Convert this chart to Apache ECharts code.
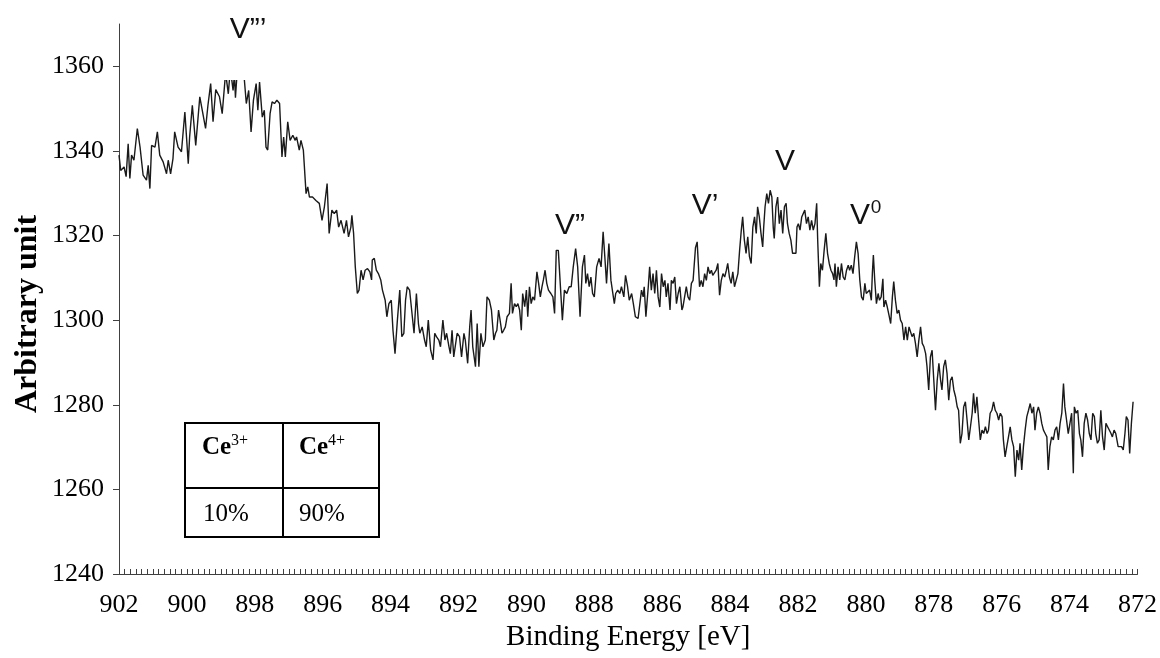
<!DOCTYPE html>
<html>
<head>
<meta charset="utf-8">
<script src="https://cdn.jsdelivr.net/npm/echarts@6/dist/echarts.min.js"></script>
<style>
html,body{margin:0;padding:0;background:#fff;}
#chart{width:1160px;height:658px;}
</style>
</head>
<body>
<div id="chart"></div>
<script>
// ---- Data ----
const bindingEnergy = [
902.00, 901.95, 901.85, 901.79, 901.73, 901.68, 901.63, 901.56, 901.46, 901.38,
901.29, 901.19, 901.14, 901.09, 901.04, 900.94, 900.87, 900.80, 900.70, 900.60,
900.55, 900.48, 900.41, 900.36, 900.26, 900.16, 900.06, 899.96, 899.92, 899.84,
899.74, 899.62, 899.52, 899.45, 899.38, 899.30, 899.23, 899.15, 899.04, 898.96,
898.86, 898.78, 898.72, 898.64, 898.60, 898.57, 898.50, 898.43, 898.33, 898.25,
898.18, 898.11, 898.04, 897.96, 897.91, 897.86, 897.78, 897.72, 897.67, 897.62,
897.55, 897.49, 897.42, 897.35, 897.27, 897.20, 897.15, 897.10, 897.03, 896.96,
896.88, 896.81, 896.77, 896.69, 896.64, 896.57, 896.49, 896.44, 896.39, 896.30,
896.20, 896.10, 896.02, 895.95, 895.87, 895.81, 895.73, 895.66, 895.59, 895.53,
895.46, 895.37, 895.30, 895.24, 895.17,
895.14, 895.09, 895.04, 894.98, 894.93, 894.87, 894.81, 894.75, 894.68, 894.61,
894.56, 894.54, 894.48, 894.42, 894.36, 894.29, 894.24, 894.16, 894.11, 894.05,
893.98, 893.93, 893.87, 893.80, 893.73, 893.67, 893.61, 893.56, 893.51, 893.44,
893.38, 893.31, 893.24, 893.18, 893.14, 893.07, 893.00, 892.95, 892.89, 892.82,
892.75, 892.70, 892.65, 892.58, 892.53, 892.46, 892.40, 892.35, 892.28, 892.24,
892.19, 892.14, 892.09, 892.04, 891.97, 891.91, 891.84, 891.80, 891.73, 891.67,
891.63, 891.58, 891.50, 891.45, 891.40, 891.34, 891.28, 891.21, 891.16, 891.09,
891.03, 890.96, 890.91, 890.87, 890.82, 890.76, 890.72, 890.67, 890.62, 890.57,
890.50, 890.45, 890.41, 890.35, 890.30, 890.25, 890.20, 890.15, 890.11, 890.05,
890.00, 889.96, 889.91, 889.86, 889.81, 889.76, 889.69, 889.64, 889.59, 889.54,
889.50, 889.45, 889.40, 889.35, 889.28, 889.22, 889.17, 889.12,
889.06, 888.94, 888.88, 888.81, 888.74, 888.68, 888.62, 888.55, 888.49, 888.42,
888.35, 888.29, 888.25, 888.20, 888.15, 888.10, 888.05, 888.00, 887.93, 887.86,
887.80, 887.74, 887.69, 887.64, 887.57, 887.51, 887.46, 887.41, 887.37, 887.31,
887.25, 887.20, 887.13, 887.08, 887.02, 886.97, 886.90, 886.85, 886.79, 886.71,
886.66, 886.61, 886.56, 886.53, 886.48, 886.41, 886.37, 886.32, 886.27, 886.22,
886.17, 886.12, 886.07, 886.02, 885.97, 885.92, 885.88, 885.83, 885.77, 885.73,
885.68, 885.63, 885.58, 885.53, 885.48, 885.42, 885.39, 885.34, 885.29, 885.24,
885.19, 885.14, 885.09, 885.02, 884.97, 884.90, 884.85, 884.80, 884.75, 884.70,
884.65, 884.60, 884.55, 884.51, 884.46, 884.41, 884.36, 884.31, 884.26, 884.21,
884.16, 884.11, 884.07, 884.02, 883.97, 883.92, 883.87, 883.82, 883.77, 883.72,
883.67, 883.63, 883.58, 883.53, 883.48, 883.43, 883.38, 883.33, 883.28, 883.23,
883.19, 883.14, 883.09, 883.04, 883.01, 882.97, 882.92, 882.87, 882.82, 882.77,
882.73, 882.70, 882.65, 882.60, 882.55, 882.50, 882.45, 882.40, 882.35, 882.31,
882.26, 882.21, 882.16, 882.11, 882.06, 882.03, 881.99, 881.94, 881.89, 881.84,
881.80, 881.75, 881.70, 881.65, 881.60, 881.55, 881.50, 881.45, 881.42, 881.37,
881.33, 881.28, 881.23, 881.18, 881.13, 881.08, 881.03, 880.98, 880.94, 880.91,
880.87, 880.82, 880.77, 880.72, 880.67, 880.62, 880.57, 880.52, 880.48, 880.43,
880.38, 880.33, 880.28, 880.23, 880.18, 880.13, 880.08, 880.03, 879.99, 879.94,
879.89, 879.84, 879.81, 879.78, 879.74, 879.69, 879.64, 879.60, 879.55, 879.50,
879.47, 879.42, 879.37, 879.32, 879.27, 879.22, 879.18, 879.13, 879.08, 879.03,
878.98, 878.93, 878.88, 878.83, 878.78, 878.73, 878.69, 878.64, 878.59, 878.54,
878.49, 878.44, 878.39, 878.34, 878.29, 878.24, 878.20, 878.15, 878.10, 878.05,
878.00, 877.95, 877.90, 877.85, 877.80, 877.76, 877.71, 877.66, 877.61, 877.56,
877.51, 877.46, 877.41, 877.36, 877.31, 877.27, 877.22, 877.17, 877.12, 877.07,
877.02, 876.97, 876.92, 876.87, 876.83, 876.78, 876.73, 876.68, 876.63, 876.58,
876.53, 876.48, 876.43, 876.39, 876.34, 876.29, 876.24, 876.19, 876.14, 876.09,
876.04, 875.99, 875.95, 875.90, 875.85, 875.80, 875.75, 875.70, 875.65, 875.60,
875.55, 875.50, 875.46, 875.41, 875.36, 875.31, 875.26, 875.21, 875.16, 875.11,
875.06, 875.02, 874.97, 874.92, 874.87, 874.82, 874.77, 874.72, 874.67, 874.63,
874.58, 874.53, 874.48, 874.43, 874.38, 874.33, 874.28, 874.23, 874.18, 874.14,
874.09, 874.04, 873.99, 873.94, 873.89, 873.86, 873.81, 873.76, 873.71, 873.67,
873.62, 873.57, 873.52, 873.47, 873.42, 873.37, 873.32, 873.27, 873.23, 873.18,
873.13, 873.08, 873.03, 872.98, 872.93, 872.88, 872.83, 872.78, 872.74, 872.69,
872.64, 872.57, 872.52, 872.47, 872.42, 872.37, 872.33, 872.28, 872.23, 872.18,
872.13
];
const intensity = [
1339.0, 1335.4, 1336.2, 1333.9, 1341.7, 1333.5, 1339.0, 1337.8, 1345.3, 1340.9,
1334.3, 1333.1, 1336.6, 1331.1, 1341.3, 1340.9, 1344.5, 1339.0, 1337.4, 1334.6,
1337.8, 1334.6, 1338.2, 1344.5, 1340.9, 1339.8, 1349.2, 1337.0, 1343.3, 1350.8,
1341.3, 1352.8, 1348.4, 1345.3, 1350.8, 1355.9, 1346.9, 1354.5, 1352.8, 1348.8,
1358.5, 1353.5, 1359.5, 1354.3, 1358.0, 1352.6, 1361.0, 1359.0, 1359.0, 1351.2,
1354.3, 1344.5, 1352.0, 1355.9, 1349.6, 1356.3, 1348.0, 1349.6, 1340.9, 1340.2,
1348.8, 1351.6, 1351.2, 1352.0, 1351.2, 1338.6, 1343.3, 1338.6, 1346.9, 1342.5,
1343.7, 1342.5, 1343.3, 1340.2, 1342.5, 1340.2, 1329.9, 1331.5, 1329.1, 1329.1,
1328.3, 1327.6, 1323.6, 1326.8, 1332.3, 1320.5, 1326.0, 1325.2, 1326.0, 1322.0,
1323.6, 1320.5, 1323.6, 1319.7, 1322.0,
1324.8, 1320.5, 1312.6, 1306.3, 1307.1, 1311.8, 1309.5, 1311.8, 1312.2, 1311.4,
1309.5, 1314.2, 1314.6, 1311.8, 1311.0, 1309.5, 1307.1, 1304.7, 1300.8, 1303.9,
1304.7, 1297.6, 1292.1, 1300.0, 1307.1, 1296.1, 1296.9, 1304.7, 1307.9, 1307.1,
1302.4, 1296.9, 1306.3, 1299.2, 1296.9, 1298.4, 1295.3, 1293.7, 1300.0, 1292.9,
1290.6, 1296.9, 1296.1, 1295.3, 1293.7, 1300.0, 1295.3, 1296.9, 1293.7, 1292.1,
1297.6, 1291.3, 1291.3, 1296.9, 1296.1, 1291.3, 1296.9, 1295.3, 1289.8, 1298.4,
1302.4, 1293.7, 1289.0, 1299.2, 1289.0, 1296.9, 1293.7, 1295.3, 1305.5, 1304.7,
1302.4, 1295.3, 1296.9, 1297.6, 1302.4, 1299.2, 1296.9, 1297.6, 1298.4, 1300.8,
1301.6, 1308.7, 1301.6, 1303.9, 1303.2, 1303.9, 1302.4, 1297.6, 1306.3, 1303.2,
1307.1, 1300.8, 1307.9, 1303.9, 1305.5, 1304.7, 1311.4, 1308.7, 1305.5, 1307.9,
1309.5, 1311.8, 1308.7, 1307.1, 1306.3, 1305.5, 1301.6, 1316.5,
1316.5, 1300.0, 1307.1, 1306.3, 1307.9, 1307.9, 1312.6, 1316.9, 1312.6, 1300.8,
1312.6, 1315.4, 1308.7, 1311.0, 1307.9, 1310.2, 1306.3, 1305.5, 1312.6, 1314.6,
1312.6, 1320.9, 1315.0, 1308.7, 1318.1, 1309.4, 1309.4, 1303.9, 1306.3, 1307.1,
1306.3, 1307.9, 1305.5, 1310.6, 1307.9, 1304.7, 1306.3, 1303.9, 1300.8, 1300.4,
1300.8, 1307.1, 1305.5, 1307.9, 1300.8, 1307.9, 1312.6, 1307.1, 1311.0, 1306.3,
1311.8, 1305.5, 1303.1, 1311.0, 1307.9, 1309.4, 1305.5, 1308.7, 1302.4, 1309.4,
1308.7, 1310.2, 1303.9, 1306.3, 1307.9, 1302.4, 1303.1, 1305.5, 1307.9, 1305.5,
1304.7, 1308.7, 1309.4, 1317.1, 1318.5, 1307.9, 1309.4, 1307.9, 1311.0, 1309.4,
1312.6, 1311.0, 1311.8, 1310.6, 1311.0, 1311.8, 1313.4, 1305.9, 1309.4, 1311.0,
1310.2, 1311.8, 1313.4, 1310.2, 1308.7, 1311.4, 1307.9, 1307.5, 1311.0, 1316.5,
1321.3, 1324.4, 1318.9, 1315.8, 1319.7, 1315.0, 1313.4, 1322.0, 1324.4, 1320.5,
1326.8, 1324.4, 1320.5, 1317.3, 1322.0, 1326.8, 1329.9, 1327.6, 1330.7, 1329.1,
1322.0, 1319.3, 1326.8, 1329.1, 1322.8, 1326.0, 1320.5, 1326.8, 1327.6, 1322.8,
1320.5, 1318.9, 1315.8, 1315.8, 1315.8, 1322.0, 1322.8, 1321.3, 1324.4, 1324.4,
1326.0, 1322.8, 1324.4, 1321.3, 1323.6, 1321.3, 1322.8, 1327.6, 1318.9, 1307.9,
1313.4, 1311.8, 1316.5, 1320.5, 1315.8, 1313.4, 1311.8, 1311.0, 1309.5, 1313.4,
1307.9, 1312.6, 1309.5, 1313.4, 1310.2, 1309.5, 1311.8, 1313.0, 1311.8, 1313.0,
1311.0, 1315.0, 1318.5, 1315.8, 1309.5, 1305.5, 1304.7, 1308.7, 1306.3, 1306.3,
1307.1, 1304.7, 1311.0, 1315.4, 1309.5, 1303.9, 1306.3, 1304.7, 1305.5, 1309.8,
1303.1, 1304.7, 1303.1, 1301.2, 1299.2, 1305.5, 1309.1, 1304.7, 1301.6, 1302.4,
1300.0, 1299.2, 1295.3, 1298.4, 1295.3, 1298.4, 1298.4, 1296.1, 1296.9, 1294.5,
1291.3, 1295.3, 1298.4, 1294.5, 1293.7, 1292.1, 1289.0, 1283.5, 1291.3, 1292.9,
1285.8, 1278.7, 1285.8, 1289.8, 1285.8, 1283.5, 1289.0, 1290.6, 1287.4, 1281.1,
1285.8, 1286.6, 1283.5, 1281.9, 1279.5, 1278.7, 1270.9, 1273.2, 1279.5, 1280.7,
1276.4, 1271.7, 1274.8, 1278.0, 1282.7, 1278.0, 1281.9, 1276.4, 1271.7, 1274.0,
1273.2, 1274.8, 1273.2, 1274.0, 1278.0, 1278.7, 1280.7, 1278.7, 1278.0, 1276.4,
1278.0, 1277.2, 1271.7, 1267.7, 1270.1, 1272.4, 1274.8, 1271.7, 1270.1, 1263.0,
1269.3, 1266.9, 1270.9, 1264.6, 1270.1, 1274.0, 1277.2, 1278.7, 1280.3, 1278.0,
1279.5, 1274.0, 1278.0, 1279.5, 1278.0, 1275.6, 1274.0, 1273.2, 1272.4, 1264.6,
1270.1, 1272.4, 1271.7, 1274.0, 1274.8, 1271.7, 1275.6, 1278.0, 1285.0, 1279.5,
1276.4, 1273.2, 1275.6, 1278.0, 1263.8, 1279.5, 1278.0, 1278.7, 1273.2, 1271.7,
1267.7, 1275.6, 1278.0, 1276.4, 1273.2, 1271.7, 1278.0, 1277.2, 1273.2, 1270.9,
1271.7, 1278.7, 1272.4, 1269.3, 1275.6, 1274.8, 1274.8, 1273.2, 1272.4, 1274.0,
1273.2, 1270.1, 1270.1, 1270.1, 1269.3, 1273.2, 1277.2, 1276.4, 1268.5, 1275.6,
1280.7
];
const xTickValues = [902, 900, 898, 896, 894, 892, 890, 888, 886, 884, 882, 880, 878, 876, 874, 872];
const yTickValues = [1240, 1260, 1280, 1300, 1320, 1340, 1360];
const peakLabels = ['V\u201D\u2019', 'V\u201D', 'V\u2019', 'V', 'V'];
const tableHeader = ['Ce', 'Ce'];
const tableHeaderSup = ['3+', '4+'];
const tableValues = ['10%', '90%'];
const xAxisTitle = 'Binding Energy [eV]';
const yAxisTitle = 'Arbitrary unit';

const chart = echarts.init(document.getElementById('chart'), null, {renderer: 'canvas'});
const seriesData = bindingEnergy.map((e, i) => [e, intensity[i]]);
const serif = '"Liberation Serif", "Times New Roman", serif';
const sans = '"Liberation Sans", Arial, sans-serif';
const axisColor = '#404040';

const option = {
  animation: false,
  backgroundColor: '#ffffff',
  grid: {left: 119, right: 19, top: 24, bottom: 84, containLabel: false},
  xAxis: {
    type: 'value', min: 872, max: 902, interval: 2, inverse: true,
    name: xAxisTitle, nameLocation: 'middle', nameGap: 49,
    nameTextStyle: {fontFamily: serif, fontSize: 29, color: '#000'},
    axisLine: {show: true, onZero: false, lineStyle: {color: axisColor, width: 1}},
    axisTick: {show: true, inside: true, length: 5, lineStyle: {color: axisColor, width: 1}},
    minorTick: {show: true, splitNumber: 12, length: 5, lineStyle: {color: axisColor, width: 1}},
    axisLabel: {fontFamily: serif, fontSize: 26, color: '#000', margin: 18,
      customValues: xTickValues, formatter: (v) => String(v)},
    splitLine: {show: false}
  },
  yAxis: {
    type: 'value', min: 1240, max: 1370, interval: 20,
    axisLine: {show: true, lineStyle: {color: axisColor, width: 1}},
    axisTick: {show: true, inside: false, length: 6, lineStyle: {color: axisColor, width: 1},
      customValues: yTickValues},
    axisLabel: {fontFamily: serif, fontSize: 26, color: '#000', margin: 15,
      customValues: yTickValues, formatter: (v) => String(v)},
    splitLine: {show: false}
  },
  series: [{
    type: 'line',
    data: seriesData,
    showSymbol: false,
    symbol: 'none',
    lineStyle: {color: '#1a1a1a', width: 1.4},
    z: 2
  }],
  graphic: [
    // white box behind the top label (hides the line like the source text box)
    {type: 'rect', shape: {x: 224, y: 0, width: 50, height: 80}, style: {fill: '#ffffff'}, z: 50},
    {type: 'text', x: 248, y: 30, z: 60, style: {text: peakLabels[0], fontFamily: sans, fontSize: 30, fill: '#111', align: 'center', verticalAlign: 'middle'}},
    {type: 'text', x: 570, y: 226, z: 60, style: {text: peakLabels[1], fontFamily: sans, fontSize: 30, fill: '#111', align: 'center', verticalAlign: 'middle'}},
    {type: 'text', x: 705, y: 206, z: 60, style: {text: peakLabels[2], fontFamily: sans, fontSize: 30, fill: '#111', align: 'center', verticalAlign: 'middle'}},
    {type: 'text', x: 785, y: 162, z: 60, style: {text: peakLabels[3], fontFamily: sans, fontSize: 30, fill: '#111', align: 'center', verticalAlign: 'middle'}},
    {type: 'text', x: 860, y: 216, z: 60, style: {text: peakLabels[4], fontFamily: sans, fontSize: 30, fill: '#111', align: 'center', verticalAlign: 'middle'}},
    {type: 'text', x: 876, y: 208, z: 60, style: {text: '0', fontFamily: sans, fontSize: 19, fill: '#111', align: 'center', verticalAlign: 'middle'}},
    // table
    {type: 'rect', shape: {x: 185, y: 423, width: 194, height: 114}, style: {fill: '#ffffff', stroke: '#000', lineWidth: 2}, z: 40},
    {type: 'line', shape: {x1: 283, y1: 423, x2: 283, y2: 537}, style: {stroke: '#000', lineWidth: 2}, z: 41},
    {type: 'line', shape: {x1: 185, y1: 488, x2: 379, y2: 488}, style: {stroke: '#000', lineWidth: 2}, z: 41},
    {type: 'text', x: 202, y: 448, z: 42, style: {text: tableHeader[0], fontFamily: serif, fontWeight: 'bold', fontSize: 25, fill: '#000', align: 'left', verticalAlign: 'middle'}},
    {type: 'text', x: 231, y: 441, z: 42, style: {text: tableHeaderSup[0], fontFamily: serif, fontSize: 16, fill: '#000', align: 'left', verticalAlign: 'middle'}},
    {type: 'text', x: 299, y: 448, z: 42, style: {text: tableHeader[1], fontFamily: serif, fontWeight: 'bold', fontSize: 25, fill: '#000', align: 'left', verticalAlign: 'middle'}},
    {type: 'text', x: 328, y: 441, z: 42, style: {text: tableHeaderSup[1], fontFamily: serif, fontSize: 16, fill: '#000', align: 'left', verticalAlign: 'middle'}},
    {type: 'text', x: 203, y: 514, z: 42, style: {text: tableValues[0], fontFamily: serif, fontSize: 25, fill: '#000', align: 'left', verticalAlign: 'middle'}},
    {type: 'text', x: 299, y: 514, z: 42, style: {text: tableValues[1], fontFamily: serif, fontSize: 25, fill: '#000', align: 'left', verticalAlign: 'middle'}},
    // y-axis title
    {type: 'text', x: 28, y: 314, rotation: Math.PI / 2, z: 60, style: {text: yAxisTitle, fontFamily: serif, fontWeight: 'bold', fontSize: 32, fill: '#000', align: 'center', verticalAlign: 'middle'}}
  ]
};
chart.setOption(option);
</script>
</body>
</html>
